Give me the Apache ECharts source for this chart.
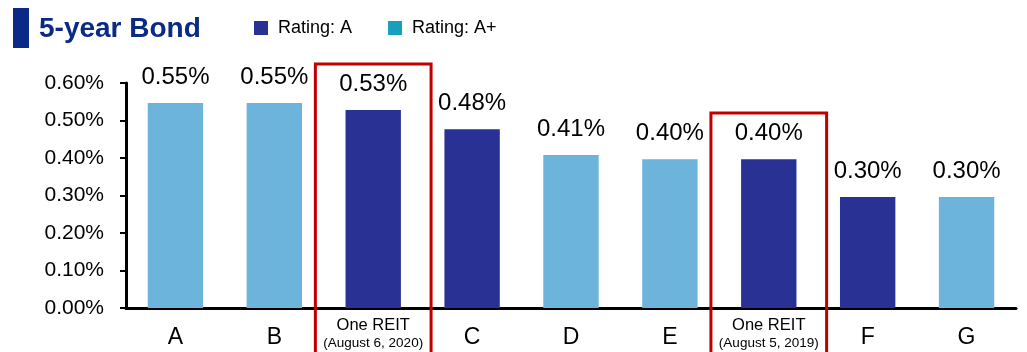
<!DOCTYPE html>
<html><head><meta charset="utf-8">
<script src="https://cdn.jsdelivr.net/npm/echarts@6/dist/echarts.min.js"></script>
<style>html,body{margin:0;padding:0;background:#fff}#c{width:1027px;height:352px}</style>
</head><body><div id="c"></div>
<script>
const categories = ['A','B','One REIT|(August 6, 2020)','C','D','E','One REIT|(August 5, 2019)','F','G'];
const ratingA  = [null, null, 0.528, 0.477, null, null, 0.397, 0.296, null];
const ratingAp = [0.547, 0.547, null, null, 0.408, 0.397, null, null, 0.296];
const yTicks = [0, 0.1, 0.2, 0.3, 0.4, 0.5, 0.6];
const highlighted = ['One REIT|(August 6, 2020)', 'One REIT|(August 5, 2019)'];

const FONT = 'Liberation Sans, Arial, sans-serif';
const NAVY = '#0B2A85', DARK = '#293294', LIGHT = '#6CB4DC', TEAL = '#179FBE', RED = '#C00000';

const chart = echarts.init(document.getElementById('c'));
const labelCfg = {show:true, position:'top', distance:14, color:'#000', fontFamily:FONT, fontSize:24,
  formatter: p => p.value.toFixed(2) + '%'};
chart.setOption({
  animation:false,
  title:{text:'5-year Bond', left:34, top:10, textStyle:{color:NAVY, fontFamily:FONT, fontWeight:'bold', fontSize:28}},
  legend:{left:249, top:14, itemWidth:14, itemHeight:14, itemGap:36,
    textStyle:{fontFamily:FONT, fontSize:18, color:'#000', padding:[0,0,0,5]},
    data:[{name:'Rating: A', icon:'rect', itemStyle:{color:DARK}},
          {name:'Rating: A+', icon:'rect', itemStyle:{color:TEAL}}]},
  grid:{left:126, right:11, top:83, bottom:44},
  xAxis:{type:'category', data:categories,
    axisLine:{lineStyle:{color:'#000', width:3}}, axisTick:{show:false},
    axisLabel:{margin:8, interval:0, fontFamily:FONT, color:'#000',
      formatter: v => v.indexOf('|')>=0 ? '{b|'+v.split('|')[0]+'}\n{c|'+v.split('|')[1]+'}' : '{a|'+v+'}',
      rich:{a:{fontSize:23, lineHeight:44, fontFamily:FONT, color:'#000'},
            b:{fontSize:16.5, lineHeight:19, fontFamily:FONT, color:'#000'},
            c:{fontSize:13.5, lineHeight:17, fontFamily:FONT, color:'#000'}}}},
  yAxis:{type:'value', min:yTicks[0], max:yTicks[yTicks.length-1], interval:0.1,
    splitLine:{show:false},
    axisLine:{show:true, lineStyle:{color:'#000', width:3}},
    axisTick:{show:true, length:6, lineStyle:{color:'#000', width:2}},
    axisLabel:{margin:22, fontFamily:FONT, fontSize:21, color:'#000', formatter: v => v.toFixed(2)+'%'}},
  series:[
    {name:'Rating: A', type:'bar', stack:'s', barWidth:'56%', data:ratingA, itemStyle:{color:DARK}, label:labelCfg},
    {name:'Rating: A+', type:'bar', stack:'s', barWidth:'56%', data:ratingAp, itemStyle:{color:LIGHT}, label:labelCfg}
  ]
});

function drawBoxes(){
  const p0 = chart.convertToPixel({gridIndex:0}, [0, 0]);
  const p1 = chart.convertToPixel({gridIndex:0}, [1, 0]);
  const step = p1[0] - p0[0];
  const w = step * 1.17;
  const els = [{type:'rect', shape:{x:13, y:8, width:16, height:40}, style:{fill:NAVY}}];
  highlighted.forEach(name => {
    const idx = categories.indexOf(name);
    const v = ratingA[idx] != null ? ratingA[idx] : ratingAp[idx];
    const top = chart.convertToPixel({gridIndex:0}, [idx, v + 0.123]);
    els.push({type:'rect', shape:{x:top[0]-w/2, y:top[1], width:w, height:400},
      style:{fill:'none', stroke:RED, lineWidth:3}, z:10});
  });
  chart.setOption({graphic:els});
}
drawBoxes();
</script></body></html>
